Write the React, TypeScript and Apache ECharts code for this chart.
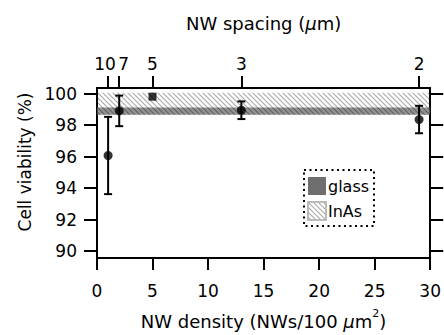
import React, { useEffect, useRef } from "react";
import * as echarts from "echarts";

// ---- data ----
const densityX = [1, 2, 13, 29]; // NWs/100 µm²
const viability = [96.07, 98.9, 98.94, 98.35]; // %
const viabilityErr = [2.45, 0.97, 0.56, 0.87];
const squareX = [5];
const squareY = [99.8];
const glassBand = [98.65, 99.12];
const inasBand = [98.65, 100.05];
const spacingTickPos = [1, 2, 5, 13, 29];
const spacingLabels = ["10", "7", "5", "3", "2"];
const yTicks = [90, 92, 94, 96, 98, 100];

const FONT = "DejaVu Sans";

function makeHatch(): HTMLCanvasElement {
  const s = 5;
  const c = document.createElement("canvas");
  c.width = s;
  c.height = s;
  const ctx = c.getContext("2d")!;
  ctx.strokeStyle = "rgba(0,0,0,0.34)";
  ctx.lineWidth = 1.1;
  ctx.beginPath();
  ctx.moveTo(-1, -1);
  ctx.lineTo(s + 1, s + 1);
  ctx.moveTo(-1, s - 1);
  ctx.lineTo(1, s + 1);
  ctx.moveTo(s - 1, -1);
  ctx.lineTo(s + 1, 1);
  ctx.stroke();
  return c;
}

export default function App() {
  const ref = useRef<HTMLDivElement>(null);
  useEffect(() => {
    const chart = echarts.init(ref.current!, undefined, { renderer: "svg" });
    const hatch = { image: makeHatch(), repeat: "repeat", imageWidth: 5, imageHeight: 5 } as any;

    const bandRender = (fill: any, opacity: number) => (params: any, api: any) => {
      const cs = params.coordSys;
      const lo = api.value(0);
      const hi = api.value(1);
      const yTop = api.coord([0, hi])[1];
      const yBot = api.coord([0, lo])[1];
      return {
        type: "rect",
        shape: { x: cs.x, y: yTop, width: cs.width, height: yBot - yTop },
        style: { fill, opacity, lineWidth: 0 },
      };
    };

    const errData = densityX.map((x, i) => [x, viability[i] - viabilityErr[i], viability[i] + viabilityErr[i]]);

    const axisLineStyle = { color: "#000", width: 2 };

    chart.setOption({
      animation: false,
      grid: { left: 97, right: 13, top: 88, bottom: 73, containLabel: false },
      legend: {
        orient: "vertical",
        left: 307,
        top: 177,
        itemWidth: 18,
        itemHeight: 18,
        itemGap: 6,
        icon: "rect",
        padding: 0,
        data: ["glass", "InAs"],
        textStyle: { fontFamily: FONT, fontSize: 16, color: "#000", padding: [0, 0, 0, -3] },
        selectedMode: false,
      },
      graphic: [
        {
          type: "rect",
          shape: { x: 304, y: 170, width: 70, height: 56 },
          style: { fill: "none", stroke: "#000", lineWidth: 2, lineDash: [2, 3.5] },
          z: 10,
        },
      ],
      xAxis: [
        {
          type: "value",
          position: "bottom",
          min: 0,
          max: 30,
          interval: 5,
          splitLine: { show: false },
          axisLine: { show: true, onZero: false, lineStyle: axisLineStyle },
          axisTick: { show: true, inside: false, length: 12, lineStyle: axisLineStyle },
          axisLabel: { fontFamily: FONT, fontSize: 17, color: "#000", margin: 24 },
          name: "{a|NW density (NWs/100 }{i|µ}{a|m}{s|2}{a|)}",
          nameLocation: "middle",
          nameGap: 50,
          nameTextStyle: {
            rich: {
              a: { fontFamily: FONT, fontSize: 18, color: "#000", verticalAlign: "bottom", lineHeight: 22 },
              i: { fontFamily: FONT, fontSize: 18, color: "#000", fontStyle: "italic", verticalAlign: "bottom", lineHeight: 22 },
              s: { fontFamily: FONT, fontSize: 11, color: "#000", verticalAlign: "top", lineHeight: 22 },
            },
          },
        },
        {
          type: "value",
          position: "top",
          min: 0,
          max: 30,
          splitLine: { show: false },
          axisLine: { show: true, onZero: false, lineStyle: axisLineStyle },
          axisTick: { show: true, inside: false, length: 12, lineStyle: axisLineStyle, customValues: spacingTickPos },
          axisLabel: {
            fontFamily: FONT,
            fontSize: 17,
            color: "#000",
            margin: 16,
            hideOverlap: false,
            showMinLabel: true,
            showMaxLabel: true,
            customValues: spacingTickPos,
            formatter: (v: number) => {
              const i = spacingTickPos.indexOf(v);
              if (i < 0) return "";
              if (i === 0) return "{l|" + spacingLabels[i] + "}";
              if (i === 1) return "{r|" + spacingLabels[i] + "}";
              return spacingLabels[i];
            },
            rich: {
              l: { fontFamily: FONT, fontSize: 17, color: "#000", padding: [0, 6, 0, 0] },
              r: { fontFamily: FONT, fontSize: 17, color: "#000", padding: [0, 0, 0, 9] },
            },
          },
          name: "{a|NW spacing (}{i|µ}{a|m)}",
          nameLocation: "middle",
          nameGap: 56,
          nameTextStyle: {
            rich: {
              a: { fontFamily: FONT, fontSize: 18, color: "#000" },
              i: { fontFamily: FONT, fontSize: 18, color: "#000", fontStyle: "italic" },
            },
          },
        },
      ],
      yAxis: [
        {
          type: "value",
          position: "left",
          min: 89.57,
          max: 100.35,
          splitLine: { show: false },
          axisLine: { show: true, onZero: false, lineStyle: axisLineStyle },
          axisTick: { show: true, inside: false, length: 13, lineStyle: axisLineStyle, customValues: yTicks },
          axisLabel: { fontFamily: FONT, fontSize: 17, color: "#000", margin: 20, customValues: yTicks },
          name: "Cell viability (%)",
          nameLocation: "middle",
          nameGap: 64,
          nameTextStyle: { fontFamily: FONT, fontSize: 17, color: "#000", padding: [0, 0, 0, 22] },
        },
        {
          type: "value",
          position: "right",
          min: 89.57,
          max: 100.35,
          splitLine: { show: false },
          axisLine: { show: true, onZero: false, lineStyle: axisLineStyle },
          axisTick: { show: true, inside: false, length: 13, lineStyle: axisLineStyle, customValues: yTicks },
          axisLabel: { show: false },
        },
      ],
      series: [
        {
          name: "glass",
          type: "custom",
          xAxisIndex: 0,
          yAxisIndex: 0,
          itemStyle: { color: "#6e6e6e" },
          encode: { y: [0, 1] },
          data: [glassBand],
          renderItem: bandRender("#6e6e6e", 0.75),
          z: 1,
        },
        {
          name: "InAs",
          type: "custom",
          xAxisIndex: 0,
          yAxisIndex: 0,
          itemStyle: { color: hatch, borderColor: "#bbb", borderWidth: 1 },
          encode: { y: [0, 1] },
          data: [inasBand],
          renderItem: bandRender(hatch, 1),
          z: 2,
        },
        {
          name: "err",
          type: "custom",
          xAxisIndex: 0,
          yAxisIndex: 0,
          encode: { x: 0, y: [1, 2] },
          data: errData,
          z: 5,
          renderItem: (params: any, api: any) => {
            const x = api.value(0);
            const lo = api.coord([x, api.value(1)]);
            const hi = api.coord([x, api.value(2)]);
            const w = 4;
            const st = { stroke: "#000", lineWidth: 2 };
            return {
              type: "group",
              children: [
                { type: "line", shape: { x1: lo[0], y1: lo[1], x2: hi[0], y2: hi[1] }, style: st },
                { type: "line", shape: { x1: lo[0] - w, y1: lo[1], x2: lo[0] + w, y2: lo[1] }, style: st },
                { type: "line", shape: { x1: hi[0] - w, y1: hi[1], x2: hi[0] + w, y2: hi[1] }, style: st },
              ],
            };
          },
        },
        {
          name: "viability",
          type: "scatter",
          symbol: "circle",
          symbolSize: 9,
          itemStyle: { color: "#000" },
          data: densityX.map((x, i) => [x, viability[i]]),
          z: 6,
        },
        {
          name: "square",
          type: "scatter",
          symbol: "rect",
          symbolSize: 8,
          itemStyle: { color: "#000" },
          data: squareX.map((x, i) => [x, squareY[i]]),
          z: 6,
        },
      ],
    });
    return () => chart.dispose();
  }, []);
  return <div ref={ref} style={{ width: 444, height: 335, position: "absolute", left: 0, top: 0, background: "#fff" }} />;
}
